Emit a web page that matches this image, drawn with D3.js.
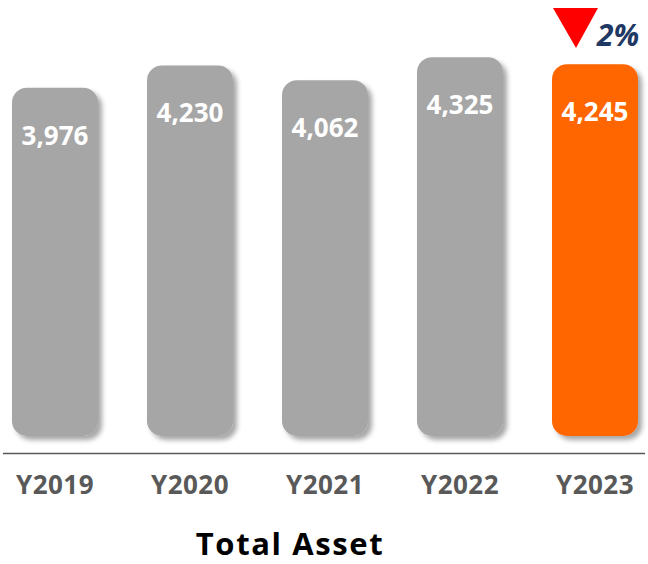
<!DOCTYPE html>
<html><head><meta charset="utf-8">
<script src="https://cdn.jsdelivr.net/npm/d3@7/dist/d3.min.js"></script>
<style>body{margin:0;background:#fff}svg{display:block}</style>
</head><body>
<svg id="c" width="648" height="564"></svg>
<script>
const categories = ["Y2019","Y2020","Y2021","Y2022","Y2023"];
const values = [3976, 4230, 4062, 4325, 4245];
const highlight = ["Y2023"];
const changeLabel = "2%";
const title = "Total Asset";

const svg = d3.select("#c");
const baseY = 436;

const x = d3.scaleBand().domain(categories).range([12, 638]).paddingInner(0.363).paddingOuter(0);
const y = d3.scaleLinear().domain([0, 5000]).range([baseY, baseY - 438]);

const defs = svg.append("defs");
const f = defs.append("filter").attr("id","sh").attr("x","-20%").attr("y","-20%").attr("width","140%").attr("height","140%");
f.append("feDropShadow").attr("dx",4).attr("dy",4).attr("stdDeviation",2.5).attr("flood-color","#000").attr("flood-opacity",0.35);

const data = categories.map((c,i)=>({c, v: values[i]}));

svg.append("g").selectAll("rect").data(data).join("rect")
  .attr("x", d=>x(d.c)).attr("width", x.bandwidth())
  .attr("y", d=>y(d.v)).attr("height", d=>baseY - y(d.v))
  .attr("rx", 15).attr("ry", 15)
  .attr("fill", d=> highlight.includes(d.c) ? "#ff6600" : "#a6a6a6")
  .attr("filter","url(#sh)");

svg.append("g").selectAll("text").data(data).join("text")
  .attr("x", d=>x(d.c)+x.bandwidth()/2)
  .attr("y", d=>y(d.v)+57)
  .attr("text-anchor","middle")
  .attr("font-family","'Open Sans', sans-serif").attr("font-weight",700)
  .attr("font-size",26).attr("fill","#fff")
  .text(d=>d3.format(",")(d.v));

// axis
const axis = d3.axisBottom(x).tickSize(0).tickPadding(0);
const ag = svg.append("g").attr("transform",`translate(0,453)`).call(axis);
ag.select(".domain").remove();
svg.append("line").attr("x1",3).attr("x2",645).attr("y1",453.5).attr("y2",453.5).attr("stroke","#595959").attr("stroke-width",1.3);
ag.selectAll(".tick text")
  .attr("y", 41).attr("dy", null)
  .attr("font-family","'Open Sans', sans-serif").attr("font-weight",700)
  .attr("font-size",26).attr("letter-spacing",0.5).attr("fill","#595959");

// change indicator
const last = data[data.length-1];
const cx = x(last.c) + 24;
svg.append("path")
  .attr("d", `M${cx-23},8 L${cx+22},8 L${cx},48 Z`)
  .attr("fill","#ff0000");
svg.append("text")
  .attr("x", 597).attr("y", 46)
  .attr("font-family","'Open Sans', sans-serif").attr("font-weight",700).attr("font-style","italic")
  .attr("font-size",30).attr("fill","#1f3864")
  .text(changeLabel);

svg.append("text")
  .attr("x", 290).attr("y", 555)
  .attr("text-anchor","middle")
  .attr("font-family","'Open Sans', sans-serif").attr("font-weight",700)
  .attr("font-size",31).attr("letter-spacing",1.6).attr("fill","#000")
  .text(title);
</script>
</body></html>
